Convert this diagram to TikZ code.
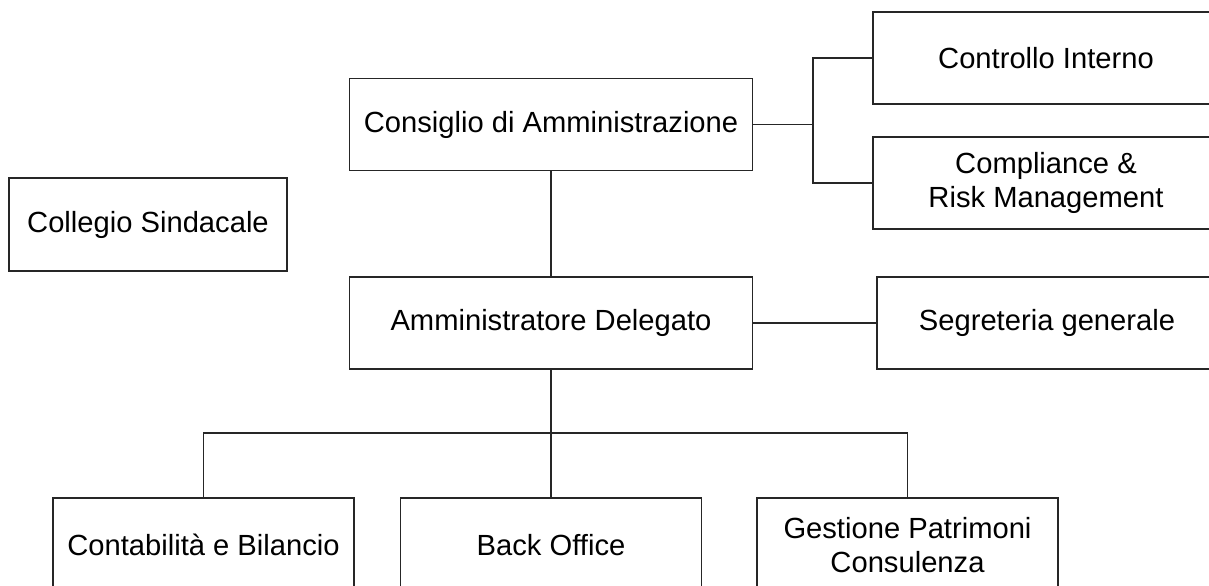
\documentclass[tikz,border=0pt]{standalone}
\usepackage{fontspec}
\setmainfont{Liberation Sans}
\usepackage{tikz}
\usetikzlibrary{positioning}

\tikzset{
	ufficio/.style={draw=black!85, line width=0.75pt, rectangle, align=center,
		minimum width=8.06cm, minimum height=1.84cm, inner sep=0pt,
		font=\fontsize{16.6}{19}\selectfont},
	linea/.style={draw=black!85, line width=0.75pt},
	gomito/.style={to path={-| (\tikztotarget)}},
	squadra/.style={to path={|- (\tikztotarget)}}
}

\begin{document}
\begin{tikzpicture}[x=0.02cm, y=-0.02cm]
\path[use as bounding box, clip] (0,0) rectangle (1209,585);
% organi
\node[ufficio] (cda) at (551,124.5) {Consiglio di Amministrazione};
\node[ufficio, minimum width=6.92cm] (ci) at (1046,58) {Controllo Interno};
\node[ufficio, minimum width=6.92cm] (crm) at (1046,183) {Compliance \&\\Risk Management};
\node[ufficio, minimum width=5.56cm, minimum height=1.86cm] (cs) at (148,224.5) {Collegio Sindacale};
\node[ufficio] (ad) at (551,323) {Amministratore Delegato};
\node[ufficio, minimum width=6.8cm] (sg) at (1047,323) {Segreteria generale};
% uffici operativi
\node[ufficio, minimum width=6.02cm, minimum height=1.88cm] (cb) at (203.5,545) {Contabilità e Bilancio};
\node[ufficio, minimum width=6.02cm, minimum height=1.88cm] (bo) at (551,545) {Back Office};
\node[ufficio, minimum width=6.02cm, minimum height=1.88cm] (gp) at (907.5,545) {Gestione Patrimoni\\Consulenza};
\coordinate (giunto) at (813,124.5);
\coordinate (bus) at (551,433);
\path[linea]
(cda) edge (ad)
edge (giunto)
(ci.west) edge[gomito] (giunto)
(crm.west) edge[gomito] (giunto)
(ad) edge (sg)
edge (bus)
(cb.north) edge[squadra] (bus)
(gp.north) edge[squadra] (bus)
(bo) edge (bus)
;
\end{tikzpicture}
\end{document}
